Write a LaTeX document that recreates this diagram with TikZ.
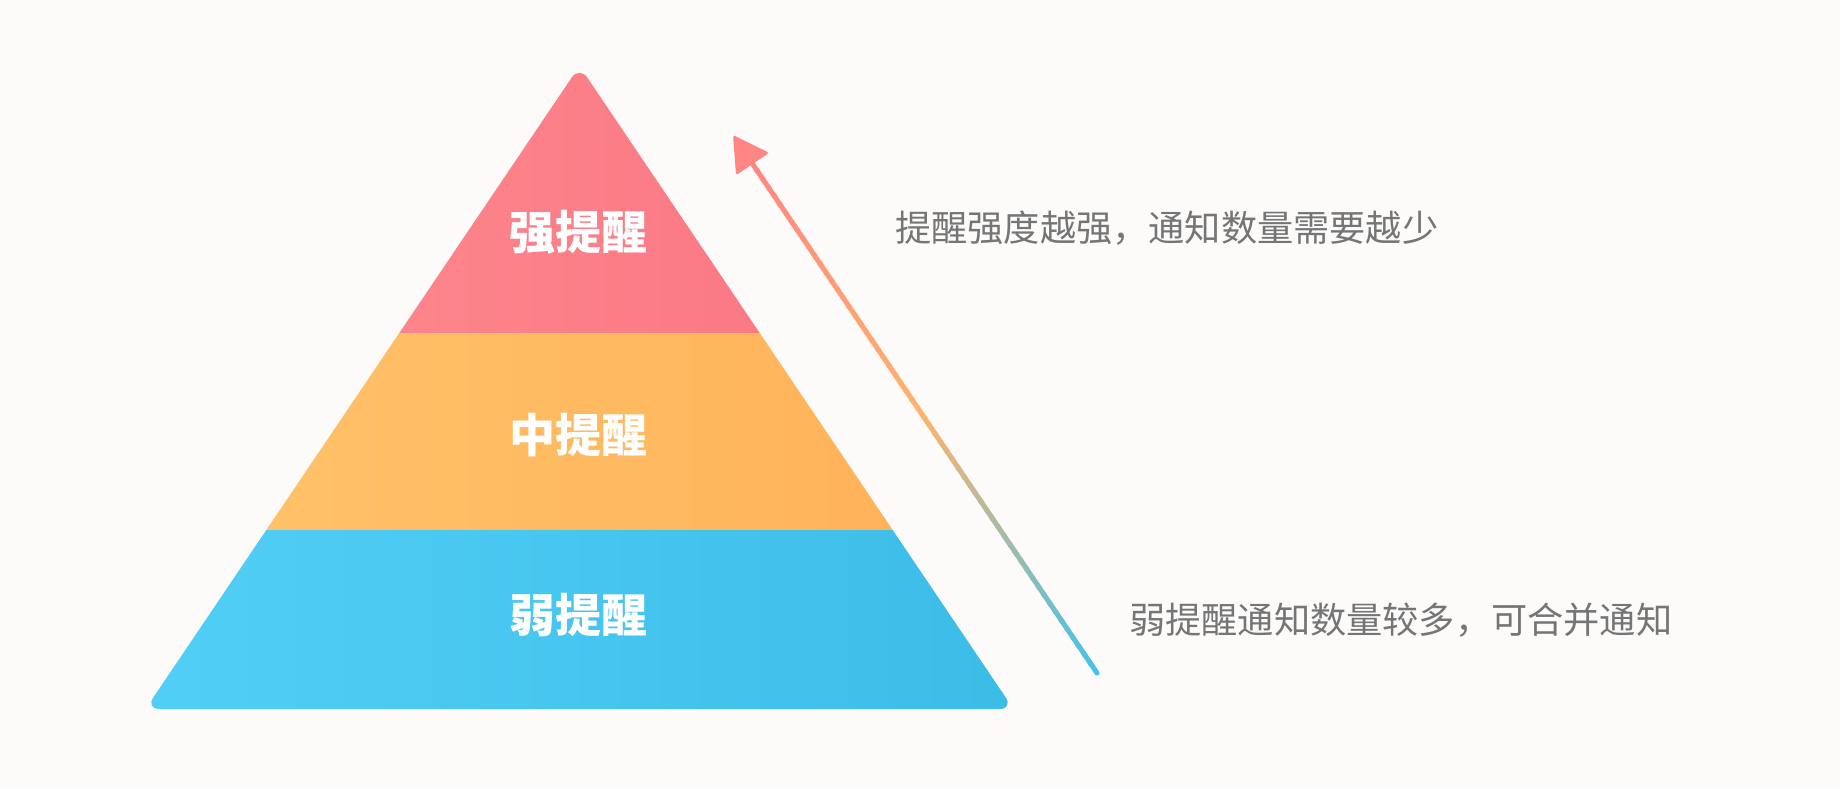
\documentclass[tikz,border=0pt]{standalone}
\usepackage{fontspec}
\newfontfamily\cjk{Noto Sans CJK SC}
\usetikzlibrary{calc}
\definecolor{bg}{HTML}{FCFBFA}
\definecolor{topL}{HTML}{FF8D91}
\definecolor{topR}{HTML}{F8717F}
\definecolor{midL}{HTML}{FFC46C}
\definecolor{midR}{HTML}{FFB056}
\definecolor{botL}{HTML}{52CFF6}
\definecolor{botR}{HTML}{3BBCE7}
\definecolor{arrblue}{HTML}{45C3E8}
\definecolor{arrorange}{HTML}{FFB36C}
\definecolor{arrpink}{HTML}{FF8683}
\definecolor{txtgray}{HTML}{757575}
\tikzset{
  levellabel/.style={inner sep=0pt, text=white, font=\cjk\bfseries\fontsize{46}{50}\selectfont},
  sidetext/.style={inner sep=0pt, anchor=west, text=txtgray, font=\cjk\fontsize{36.2}{40}\selectfont},
}
\begin{document}
\begin{tikzpicture}[x=1pt,y=-1pt]
\fill[bg] (0,0) rectangle (1840,788);
\path[use as bounding box] (0,0) rectangle (1840,788);
% pyramid
\coordinate (apex) at (579.5,66);
\coordinate (bl) at (145.5,709);
\coordinate (br) at (1013.5,709);
\begin{scope}
\clip[rounded corners=14pt] (apex) -- (br) -- (bl) -- cycle;
\shade[left color=topL, right color=topR] (130,50) rectangle (1030,333);
\shade[left color=midL, right color=midR] (130,333) rectangle (1030,530);
\shade[left color=botL, right color=botR] (130,530) rectangle (1030,715);
\end{scope}
\node[levellabel] (strong) at (578,232) {强提醒};
\node[levellabel] (medium) at (578,435) {中提醒};
\node[levellabel] (weak) at (578,615) {弱提醒};
% arrow
\coordinate (arrowstart) at (1097,673);
\coordinate (arrowtip) at (733,135);
\coordinate (arrowbase) at ($(arrowtip)!35pt!(arrowstart)$);
\coordinate (hc1) at ($(arrowbase)!20pt!90:(arrowtip)$);
\coordinate (hc2) at ($(arrowbase)!20pt!-90:(arrowtip)$);
\fill[arrblue] (arrowstart) circle (2.5pt);
\foreach \i in {0,...,59}{
  \pgfmathsetmacro\ta{\i/60}
  \pgfmathsetmacro\tb{(\i+1.4)/60}
  \pgfmathtruncatemacro\p{\i<30 ? 100-\i*100/30 : 200-\i*100/30}
  \ifnum\i<30 \colorlet{segc}{arrblue!\p!arrorange}\else\colorlet{segc}{arrorange!\p!arrpink}\fi
  \draw[segc, line width=5pt] ($(arrowstart)!\ta!(arrowbase)$) -- ($(arrowstart)!\tb!(arrowbase)$);
}
\fill[arrpink, rounded corners=2.5pt] (arrowtip) -- (hc1) -- (hc2) -- cycle;
% side texts
\node[sidetext] (toptext) at (895,228) {提醒强度越强，通知数量需要越少};
\node[sidetext] (bottomtext) at (1129,620) {弱提醒通知数量较多，可合并通知};
\end{tikzpicture}
\end{document}
